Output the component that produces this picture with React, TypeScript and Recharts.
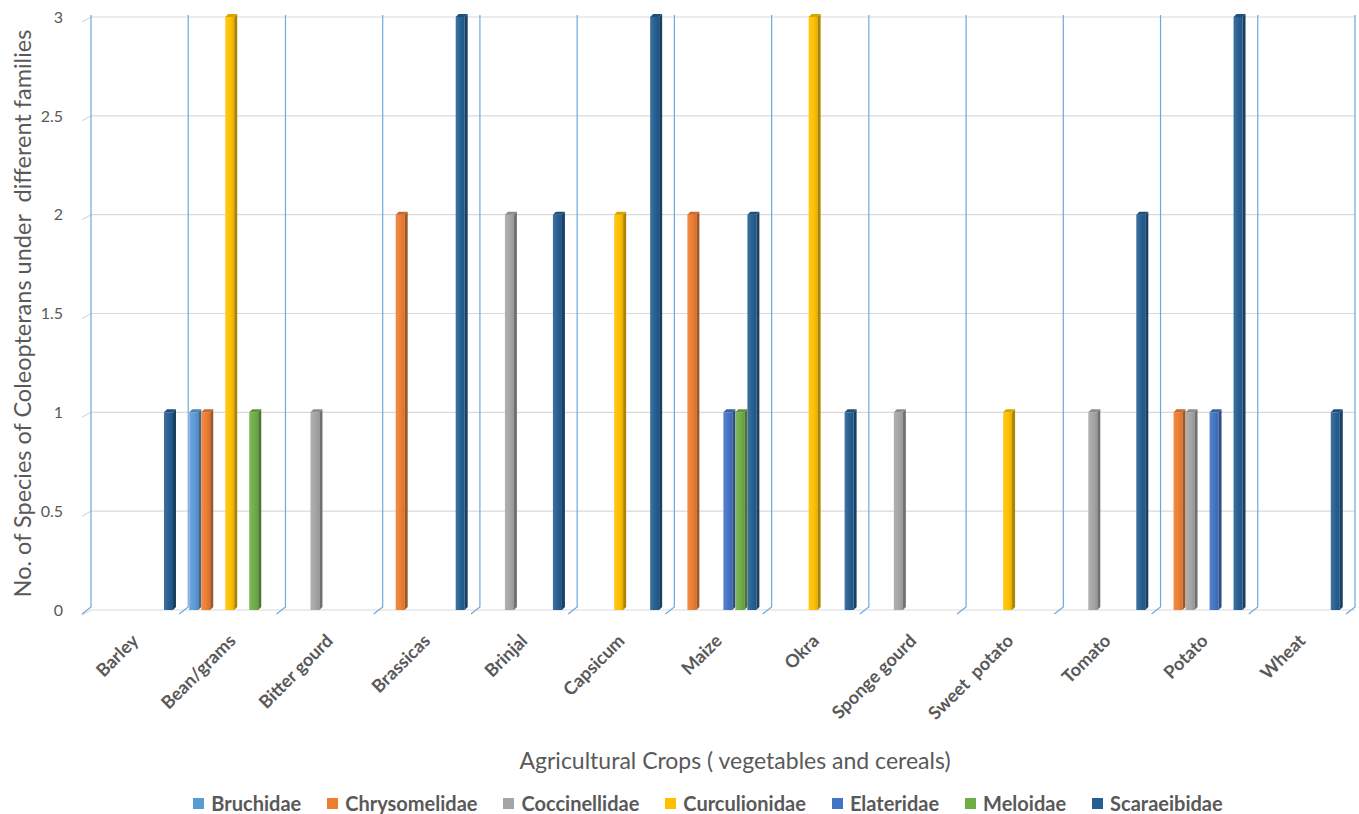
import React from 'react';
import { BarChart, Bar, XAxis, YAxis, CartesianGrid, Legend, Label } from 'recharts';

const crops = ['Barley', 'Bean/grams', 'Bitter gourd', 'Brassicas', 'Brinjal', 'Capsicum', 'Maize', 'Okra', 'Sponge gourd', 'Sweet  potato', 'Tomato', 'Potato', 'Wheat'];

const bruchidae = [0, 1, 0, 0, 0, 0, 0, 0, 0, 0, 0, 0, 0];
const chrysomelidae = [0, 1, 0, 2, 0, 0, 2, 0, 0, 0, 0, 1, 0];
const coccinellidae = [0, 0, 1, 0, 2, 0, 0, 0, 1, 0, 1, 1, 0];
const curculionidae = [0, 3, 0, 0, 0, 2, 0, 3, 0, 1, 0, 0, 0];
const elateridae = [0, 0, 0, 0, 0, 0, 1, 0, 0, 0, 0, 1, 0];
const meloidae = [0, 1, 0, 0, 0, 0, 1, 0, 0, 0, 0, 0, 0];
const scaraeibidae = [1, 0, 0, 3, 2, 3, 2, 1, 0, 0, 2, 3, 1];

const yTicks = [0, 0.5, 1, 1.5, 2, 2.5, 3];

const series = [
  { key: 'Bruchidae', values: bruchidae, color: '#5B9BD5' },
  { key: 'Chrysomelidae', values: chrysomelidae, color: '#ED7D31' },
  { key: 'Coccinellidae', values: coccinellidae, color: '#A5A5A5' },
  { key: 'Curculionidae', values: curculionidae, color: '#FFC000' },
  { key: 'Elateridae', values: elateridae, color: '#4472C4' },
  { key: 'Meloidae', values: meloidae, color: '#70AD47' },
  { key: 'Scaraeibidae', values: scaraeibidae, color: '#255E91' },
];

const data = crops.map((crop, i) => {
  const row: Record<string, string | number> = { crop };
  series.forEach(s => { row[s.key] = s.values[i]; });
  return row;
});

const FONT = 'Lato, "Open Sans", sans-serif';
const TEXT = '#595959';

// darken / lighten a hex colour
const shade = (hex: string, f: number) => {
  const n = parseInt(hex.slice(1), 16);
  const c = [(n >> 16) & 255, (n >> 8) & 255, n & 255].map(v =>
    Math.max(0, Math.min(255, Math.round(f > 1 ? v + (255 - v) * (f - 1) : v * f)))
  );
  return '#' + c.map(v => v.toString(16).padStart(2, '0')).join('');
};

// fake excel 3d column: front face, right side, top cap
const Bar3D = (props: any) => {
  const { x, y, width, height, fill, dataKey } = props;
  if (!height || height <= 0) return null;
  const d = 3;
  const bx = x - 6;
  const fw = width - d;
  const gid = `g-${dataKey}`;
  return (
    <g>
      <defs>
        <linearGradient id={gid} x1="0" y1="0" x2="1" y2="0">
          <stop offset="0%" stopColor={shade(fill, 1.12)} />
          <stop offset="60%" stopColor={fill} />
          <stop offset="100%" stopColor={shade(fill, 0.9)} />
        </linearGradient>
      </defs>
      <rect x={bx} y={y} width={fw} height={height} fill={`url(#${gid})`} />
      <polygon
        points={`${bx + fw},${y} ${bx + width},${y - d} ${bx + width},${y + height - d} ${bx + fw},${y + height}`}
        fill={shade(fill, 0.68)}
      />
      <polygon
        points={`${bx},${y} ${bx + d},${y - d} ${bx + width},${y - d} ${bx + fw},${y}`}
        fill={shade(fill, 0.85)}
      />
    </g>
  );
};

const CropTick = ({ x, y, payload }: any) => {
  const tx = x;
  const ty = y + 24;
  return (
    <text x={tx} y={ty} transform={`rotate(-45 ${tx} ${ty})`} textAnchor="end"
      fill={TEXT} fontSize={18} fontWeight={700} fontFamily={FONT} style={{ whiteSpace: 'pre' }}>
      {payload.value}
    </text>
  );
};

const hLine = (p: any) => (
  <path key={p.key} d={`M${p.x1 - 9},${p.y1 + 5} L${p.x1},${p.y1} L${p.x2},${p.y2}`}
    stroke="#D9D9D9" strokeWidth={1.2} fill="none" />
);

const vLine = (p: any) => (
  <path key={p.key} d={`M${p.x1},${p.y1 - 2} L${p.x2},${p.y2 - 3} L${p.x2 - 9},${p.y2 + 4}`}
    stroke="#6FA8DC" strokeWidth={1.2} fill="none" />
);

const LegendContent = () => (
  <div style={{ display: 'flex', justifyContent: 'center', gap: 26, fontFamily: FONT, fontSize: 20, fontWeight: 700, color: TEXT, lineHeight: '22px' }}>
    {series.map(s => (
      <span key={s.key} style={{ display: 'flex', alignItems: 'center' }}>
        <span style={{ width: 11, height: 11, background: s.color, marginRight: 7, display: 'inline-block' }} />
        {s.key}
      </span>
    ))}
  </div>
);

export default function App() {
  return (
    <div style={{ position: 'absolute', left: 0, top: 0, background: '#fff' }}>
      <BarChart width={1359} height={814} data={data}
        margin={{ top: 17, right: 4, left: 0, bottom: 0 }}
        barCategoryGap={7} barGap={0}>
        <CartesianGrid vertical={false} horizontal={hLine} />
        <CartesianGrid horizontal={false} vertical={vLine}
          verticalCoordinatesGenerator={({ offset }: any) =>
            Array.from({ length: crops.length + 1 }, (_, i) => offset.left + (i * offset.width) / crops.length)
          } />
        <XAxis dataKey="crop" height={204} interval={0} tickLine={false} axisLine={false} tick={<CropTick />}>
          <Label content={({ viewBox }: any) => (
            <text x={viewBox.x + viewBox.width / 2 + 12} y={viewBox.y + 159} textAnchor="middle"
              fill={TEXT} fontSize={23} fontFamily={FONT}>
              Agricultural Crops ( vegetables and cereals)
            </text>
          )} />
        </XAxis>
        <YAxis width={91} domain={[0, 3]} ticks={yTicks} tickLine={false} axisLine={false}
          tickSize={6} tickMargin={22} tick={{ fill: TEXT, fontSize: 16, fontFamily: FONT }}>
          <Label content={({ viewBox }: any) => {
            const cx = 22;
            const cy = viewBox.y + viewBox.height / 2;
            return (
              <text x={cx} y={cy} transform={`rotate(-90 ${cx} ${cy})`} textAnchor="middle" dominantBaseline="central"
                fill={TEXT} fontSize={23.5} fontFamily={FONT} style={{ whiteSpace: 'pre' }}>
                No. of Species of Coleopterans under  different families
              </text>
            );
          }} />
        </YAxis>
        <Legend layout="horizontal" verticalAlign="middle" align="center" content={<LegendContent />}
          wrapperStyle={{ top: 792, left: 57, width: 1302 }} />
        {series.map(s => (
          <Bar key={s.key} dataKey={s.key} fill={s.color} shape={<Bar3D />} isAnimationActive={false} />
        ))}
      </BarChart>
    </div>
  );
}
